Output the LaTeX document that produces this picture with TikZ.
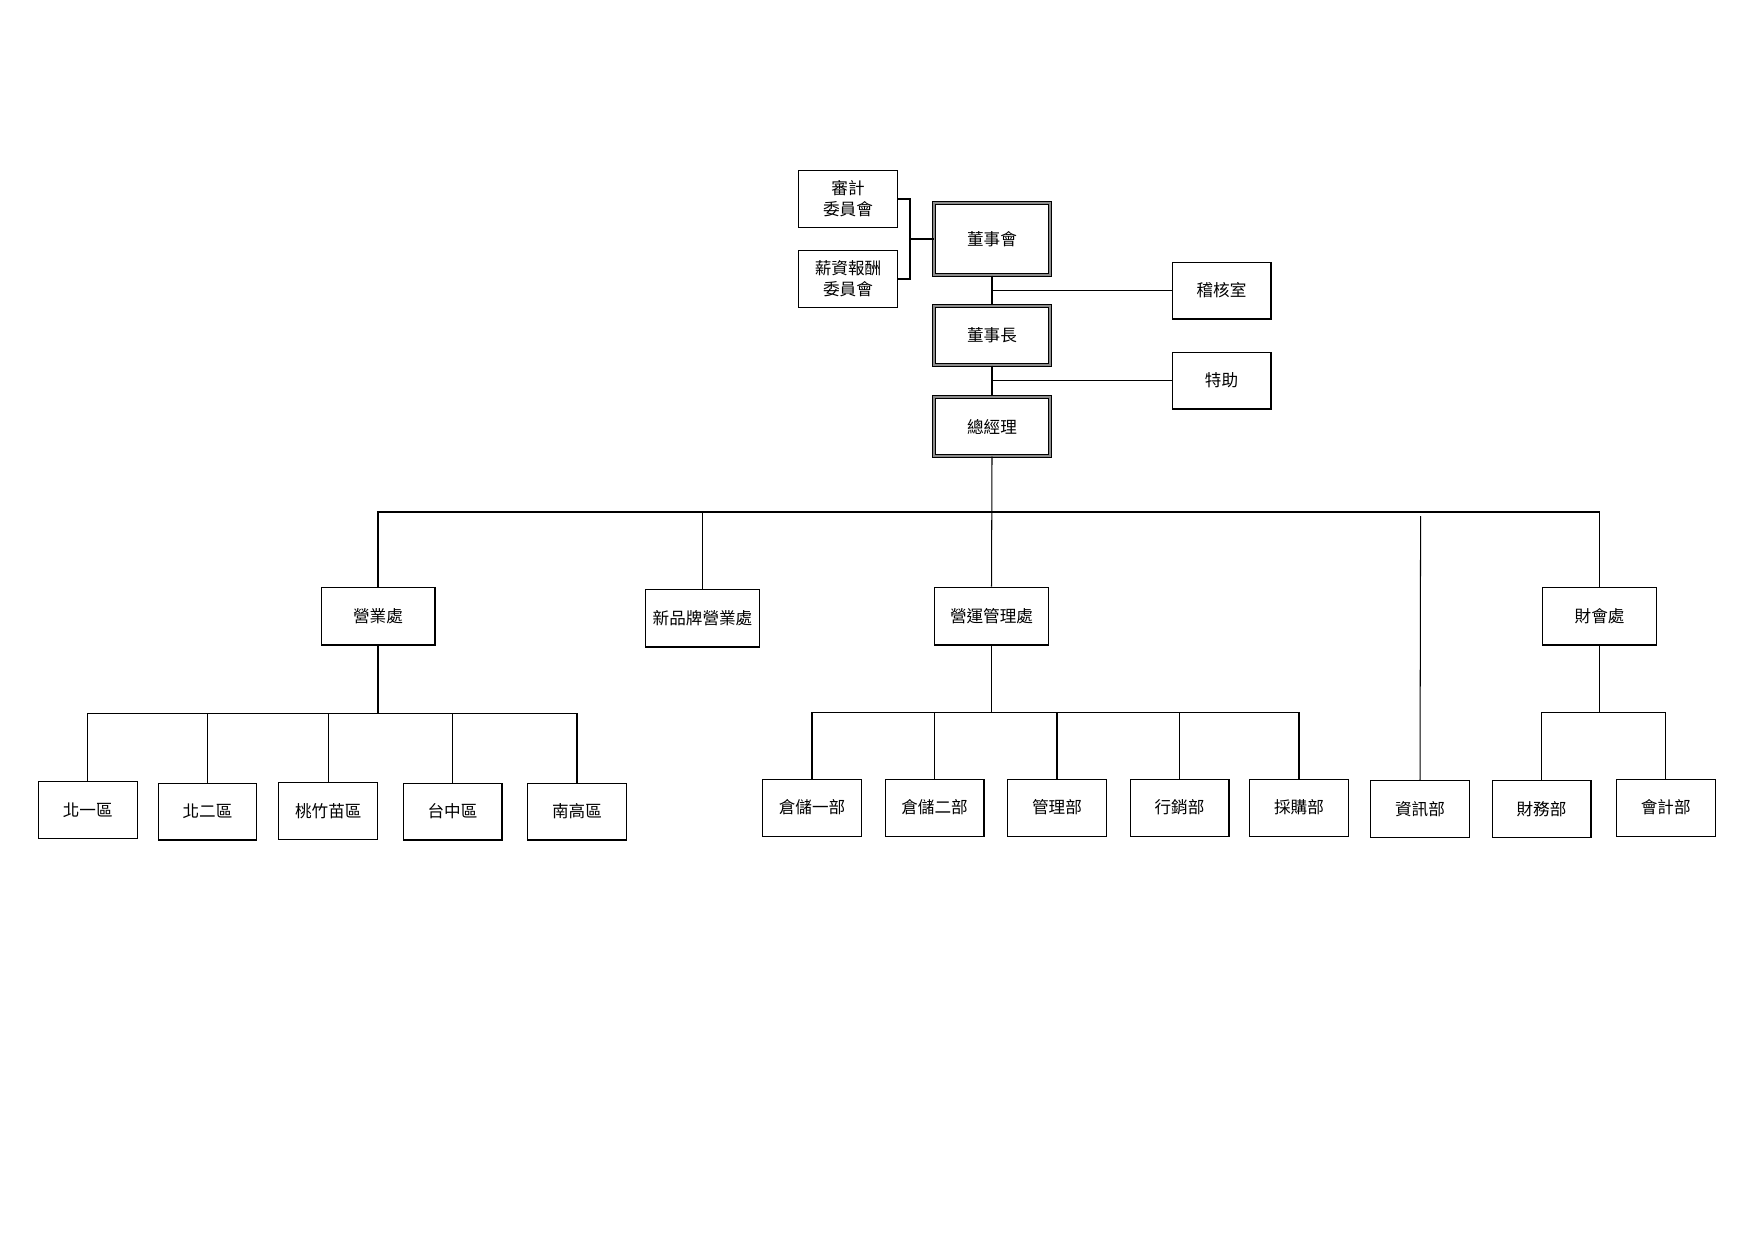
\documentclass[tikz,border=0pt]{standalone}
\usepackage{fontspec}
\setmainfont{Noto Sans CJK TC}
\tikzset{
	unit/.style={draw, line width=0.5pt, minimum width=1.676cm, minimum height=0.965cm, inner sep=1pt, align=center, font=\fontsize{8}{10}\selectfont},
	dept/.style={unit, minimum width=1.93cm, minimum height=0.982cm},
	head/.style={unit, draw=black, double=black!45, double distance=0.55pt, line width=0.5pt, minimum width=1.964cm, minimum height=1.0cm},
	link/.style={line width=0.5pt}
}

\begin{document}
\begin{tikzpicture}[x=0.016933cm, y=-0.016933cm]
		%%%%% START %%%%%
		\useasboundingbox (0, 0) rectangle (1754, 1240);
		
		\node[unit] (audit) at (848, 199) {審計\\委員會};
		\node[unit] (salary) at (848, 279) {薪資報酬\\委員會};
		\node[head, minimum height=1.219cm] (board) at (992, 239) {董事會};
		\node[unit] (audoff) at (1221.5, 290.5) {稽核室};
		\node[head] (chair) at (992, 335.5) {董事長};
		\node[unit] (assist) at (1221.5, 380.5) {特助};
		\node[head] (gm) at (992, 426.5) {總經理};
		
		\node[dept] (sales) at (378, 616) {營業處};
		\node[dept] (newbrand) at (702.5, 618) {新品牌營業處};
		\node[dept] (ops) at (991.5, 616) {營運管理處};
		\node[dept] (fin) at (1599.6, 616) {財會處};
		
		\node[unit] (r1) at (87.8, 810) {北一區};
		\node[unit] (r2) at (207.5, 811.5) {北二區};
		\node[unit] (r3) at (328.3, 811) {桃竹苗區};
		\node[unit] (r4) at (452.5, 811.5) {台中區};
		\node[unit] (r5) at (577, 811.5) {南高區};
		
		\node[unit] (w1) at (812, 807.6) {倉儲一部};
		\node[unit] (w2) at (934.5, 807.6) {倉儲二部};
		\node[unit] (adm) at (1057, 807.6) {管理部};
		\node[unit] (mkt) at (1179.5, 807.6) {行銷部};
		\node[unit] (pur) at (1299, 807.6) {採購部};
		\node[unit] (it) at (1420, 808.8) {資訊部};
		\node[unit] (treas) at (1541.5, 808.8) {財務部};
		\node[unit] (acct) at (1665.7, 807.6) {會計部};
		
		\coordinate (brk) at (910, 239);
		\coordinate (bus) at (992, 512);
		\coordinate (ittop) at (1420.6, 516);
		\coordinate (salesbus) at (378, 713.7);
		\coordinate (opsbus) at (991.5, 712.5);
		\coordinate (finbus) at (1599.6, 712.5);
		
		\draw[link] (audit.east) -| (brk) |- (salary.east);
		\draw[link] (brk) -- (board.west);
		\draw[link] (board.south) -- (chair.north);
		\draw[link] (chair.south) -- (gm.north);
		\draw[link] (audoff.west) -- (audoff.west -| board.south);
		\draw[link] (assist.west) -- (assist.west -| chair.south);
		
		\draw[link] (gm.south) -- (ops.north);
		\draw[link] (sales.north) |- (bus) -| (fin.north);
		\draw[link] (newbrand.north) -- (newbrand.north |- bus);
		\draw[link] (ittop) -- (it.north);
		
		\draw[link] (sales.south) -- (salesbus);
		\draw[link] (r1.north) |- (salesbus) -| (r5.north);
		\foreach \n in {r2, r3, r4}
			\draw[link] (\n.north) -- (\n.north |- salesbus);
		
		\draw[link] (ops.south) -- (opsbus);
		\draw[link] (w1.north) |- (opsbus) -| (pur.north);
		\foreach \n in {w2, adm, mkt}
			\draw[link] (\n.north) -- (\n.north |- opsbus);
		
		\draw[link] (fin.south) -- (finbus);
		\draw[link] (treas.north) |- (finbus) -| (acct.north);
		%%%%% END %%%%%
	\end{tikzpicture}
\end{document}
